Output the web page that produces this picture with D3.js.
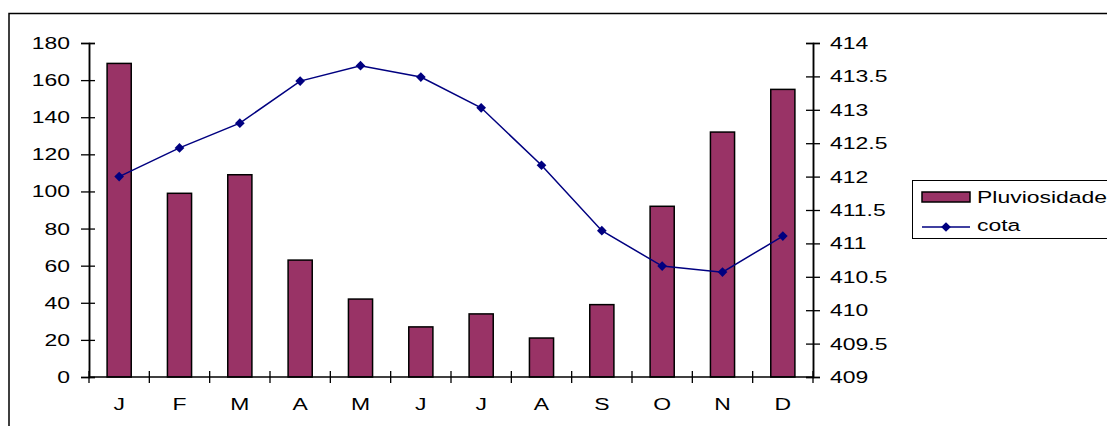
<!DOCTYPE html>
<html><head><meta charset="utf-8">
<script src="https://cdn.jsdelivr.net/npm/d3@7"></script>
<style>body{margin:0;background:#fff}svg{display:block;font-family:"Liberation Sans",Arial,sans-serif}</style>
</head><body><svg id="c" width="1107" height="426"></svg>
<script>
const months = ["J","F","M","A","M","J","J","A","S","O","N","D"];
const pluviosidade = [169,99,109,63,42,27,34,21,39,92,132,155];
const cota = [412.0,412.43,412.80,413.43,413.66,413.49,413.03,412.17,411.19,410.66,410.57,411.11];
const leftTicks = [0,20,40,60,80,100,120,140,160,180];
const rightTicks = [409,409.5,410,410.5,411,411.5,412,412.5,413,413.5,414];
const seriesNames = ["Pluviosidade","cota"];

const svg = d3.select("#c");
const L = 89, R = 813, T = 43, B = 377;
const barColor = "#993366", lineColor = "#000080";
const FS = 17, SX = 1.35;

function label(g, x, y, txt, anchor, dy) {
  g.append("g").attr("transform", `translate(${x},${y}) scale(${SX},1)`)
    .append("text").attr("text-anchor", anchor).attr("dy", dy || 0)
    .attr("font-size", FS).attr("fill", "#000").text(txt);
}

// outer border
svg.append("rect").attr("x",9).attr("y",13.5).attr("width",1200).attr("height",500)
  .attr("fill","none").attr("stroke","#000").attr("stroke-width",1.5);

const x = d3.scaleBand().domain(d3.range(months.length)).range([L,R]).padding(0);
const y = d3.scaleLinear().domain([0,180]).range([B,T]);
const y2 = d3.scaleLinear().domain([409,414]).range([B,T]);
const bw = x.bandwidth()*0.4;
const cx = i => x(i) + x.bandwidth()/2;

// bars
svg.append("g").selectAll("rect").data(pluviosidade).join("rect")
  .attr("x",(d,i)=>cx(i)-bw/2)
  .attr("y",d=>y(d)).attr("width",bw).attr("height",d=>B-y(d))
  .attr("fill",barColor).attr("stroke","#000").attr("stroke-width",1.5);

// left axis (cross ticks)
svg.append("g").attr("transform",`translate(${L},0)`)
  .call(d3.axisLeft(y).tickValues(leftTicks).tickSize(8).tickFormat(""));
svg.append("g").attr("transform",`translate(${L},0)`)
  .call(d3.axisRight(y).tickValues(leftTicks).tickSize(6).tickFormat(""));
// right axis
svg.append("g").attr("transform",`translate(${R},0)`)
  .call(d3.axisRight(y2).tickValues(rightTicks).tickSize(7).tickFormat(""));
svg.append("g").attr("transform",`translate(${R},0)`)
  .call(d3.axisLeft(y2).tickValues(rightTicks).tickSize(7).tickFormat(""));

svg.selectAll(".domain").attr("stroke","#000").attr("stroke-width",1.5);
svg.selectAll(".tick line").attr("stroke","#000").attr("stroke-width",1.3);

const lbl = svg.append("g");
leftTicks.forEach(v => label(lbl, 70, y(v), String(v), "end", "0.35em"));
rightTicks.forEach(v => label(lbl, 830, y2(v), String(v), "start", "0.35em"));

// x axis
const xg = svg.append("g");
xg.append("line").attr("x1",L).attr("x2",R).attr("y1",B).attr("y2",B).attr("stroke","#000").attr("stroke-width",1.5);
xg.selectAll("line.t").data(d3.range(months.length+1)).join("line").attr("class","t")
  .attr("x1",i=>L+i*x.step()).attr("x2",i=>L+i*x.step()).attr("y1",B-6).attr("y2",B+6)
  .attr("stroke","#000").attr("stroke-width",1.3);
months.forEach((m,i) => label(xg, cx(i), 410, m, "middle"));

// line
const line = d3.line().x((d,i)=>cx(i)).y(d=>y2(d));
svg.append("path").datum(cota).attr("d",line).attr("fill","none").attr("stroke",lineColor).attr("stroke-width",1.5);
const diamond = d3.symbol().type(d3.symbolDiamond2).size(60);
svg.append("g").selectAll("path").data(cota).join("path")
  .attr("transform",(d,i)=>`translate(${cx(i)},${y2(d)})`)
  .attr("d",diamond).attr("fill",lineColor);

// legend
const lg = svg.append("g");
lg.append("rect").attr("x",912.5).attr("y",180.5).attr("width",300).attr("height",58)
  .attr("fill","#fff").attr("stroke","#000").attr("stroke-width",1);
lg.append("rect").attr("x",922).attr("y",192).attr("width",48).attr("height",10)
  .attr("fill",barColor).attr("stroke","#000").attr("stroke-width",1.5);
label(lg, 977, 203, seriesNames[0], "start");
lg.append("line").attr("x1",922).attr("x2",970).attr("y1",227).attr("y2",227).attr("stroke",lineColor).attr("stroke-width",1.5);
lg.append("path").attr("transform","translate(946,227)").attr("d",diamond).attr("fill",lineColor);
label(lg, 977, 231, seriesNames[1], "start");
</script></body></html>
